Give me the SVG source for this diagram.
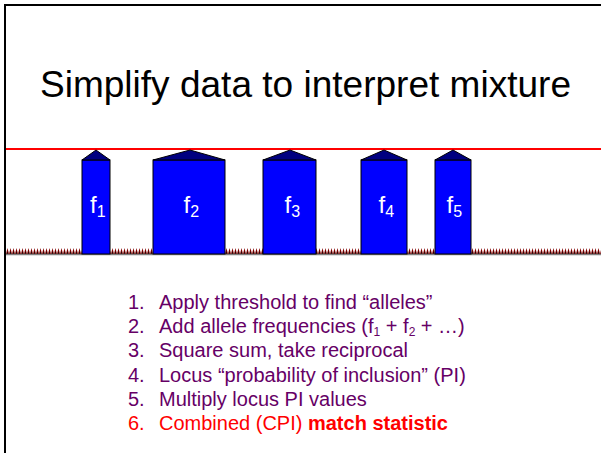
<svg xmlns="http://www.w3.org/2000/svg" width="601" height="453" viewBox="0 0 601 453">
<style>
.bar{fill:#0000FF;stroke:#000;stroke-width:1}
.roof{fill:#000080;stroke:#000;stroke-width:1}
.lbl{font-family:"Liberation Sans",Arial,sans-serif;font-size:24px;fill:#fff}
.item{font-family:"Liberation Sans",Arial,sans-serif;font-size:20px;fill:#660066}
</style>
<defs>
<pattern id="spk" x="0" y="247" width="3" height="7" patternUnits="userSpaceOnUse">
<polygon points="0,7 1.5,1 3,7" fill="#800000"/>
<polygon points="0.9,7 1.5,4 2.1,7" fill="#000"/>
</pattern>
</defs>
<rect x="0" y="0" width="601" height="453" fill="#fff"/>
<path d="M5,453 V5 H601" fill="none" stroke="#000" stroke-width="2"/>
<text x="40" y="97" font-family="Liberation Sans,Arial,sans-serif" font-size="36" fill="#000" textLength="531" lengthAdjust="spacingAndGlyphs">Simplify data to interpret mixture</text>
<line x1="6" y1="149" x2="601" y2="149" stroke="#FF0000" stroke-width="2"/>
<rect x="6" y="247" width="595" height="7" fill="url(#spk)"/>
<line x1="6" y1="254.5" x2="601" y2="254.5" stroke="#808080" stroke-width="1.5"/>
<g id="f1"><rect class="bar" x="82" y="160" width="28" height="94"/><polygon class="roof" points="82,160 96,150 110,160"/><text class="lbl" x="90" y="213">f<tspan font-size="16" dy="4">1</tspan></text></g>
<g id="f2"><rect class="bar" x="153" y="160" width="72" height="94"/><polygon class="roof" points="153,160 190,150 225,160"/><text class="lbl" x="183.5" y="213">f<tspan font-size="16" dy="4">2</tspan></text></g>
<g id="f3"><rect class="bar" x="263" y="160" width="53" height="94"/><polygon class="roof" points="263,160 290,150 316,160"/><text class="lbl" x="284.5" y="213">f<tspan font-size="16" dy="4">3</tspan></text></g>
<g id="f4"><rect class="bar" x="361" y="160" width="46" height="94"/><polygon class="roof" points="361,160 384,150 407,160"/><text class="lbl" x="378.5" y="213">f<tspan font-size="16" dy="4">4</tspan></text></g>
<g id="f5"><rect class="bar" x="435" y="160" width="36" height="94"/><polygon class="roof" points="435,160 453,150 471,160"/><text class="lbl" x="446.5" y="213">f<tspan font-size="16" dy="4">5</tspan></text></g>
<g id="list">
<text class="item" x="128" y="309">1.</text><text class="item" x="159" y="309">Apply threshold to find “alleles”</text>
<text class="item" x="128" y="333.2">2.</text><text class="item" x="159" y="333.2">Add allele frequencies (f<tspan font-size="12" dy="3">1</tspan><tspan dy="-3"> + f</tspan><tspan font-size="12" dy="3">2</tspan><tspan dy="-3"> + …)</tspan></text>
<text class="item" x="128" y="357.4">3.</text><text class="item" x="159" y="357.4">Square sum, take reciprocal</text>
<text class="item" x="128" y="381.6">4.</text><text class="item" x="159" y="381.6">Locus “probability of inclusion” (PI)</text>
<text class="item" x="128" y="405.8">5.</text><text class="item" x="159" y="405.8">Multiply locus PI values</text>
<text class="item" x="128" y="430" style="fill:#FF0000">6.</text><text class="item" x="159" y="430" style="fill:#FF0000">Combined (CPI) <tspan font-weight="bold">match statistic</tspan></text>
</g>
</svg>
